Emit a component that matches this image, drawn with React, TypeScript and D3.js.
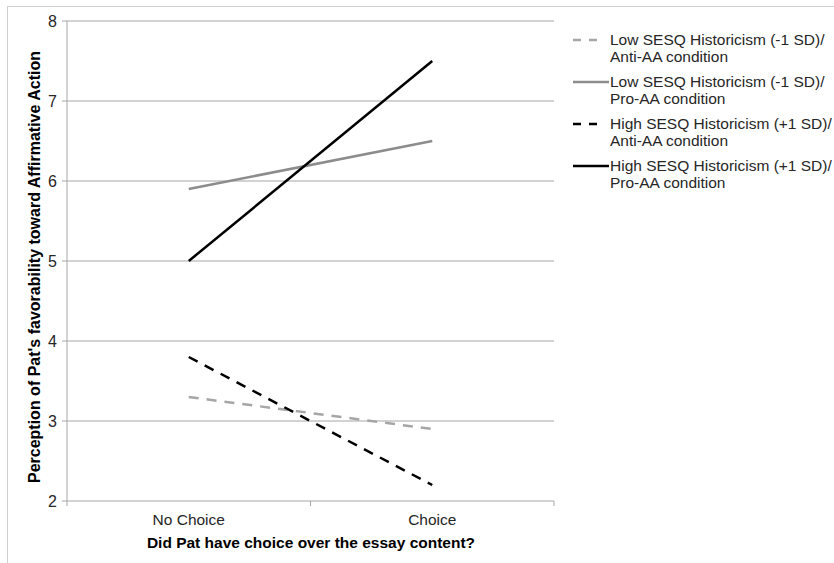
import React from "react";
import * as d3 from "d3";

const categories = ["No Choice", "Choice"];
const yTicks = [2, 3, 4, 5, 6, 7, 8];

const lowAnti = [3.3, 2.9];
const lowPro = [5.9, 6.5];
const highAnti = [3.8, 2.2];
const highPro = [5.0, 7.5];

const legendLines = [
  ["Low SESQ Historicism (-1 SD)/", "Anti-AA condition"],
  ["Low SESQ Historicism (-1 SD)/", "Pro-AA condition"],
  ["High SESQ Historicism (+1 SD)/", "Anti-AA condition"],
  ["High SESQ Historicism (+1 SD)/", "Pro-AA condition"],
];

const W = 834;
const H = 563;
const font = "Arial, 'Liberation Sans', sans-serif";

export default function App() {
  const left = 67;
  const right = 554;
  const top = 21;
  const bottom = 501;

  const x = d3.scalePoint<string>().domain(categories).range([left, right]).padding(0.5);
  const y = d3.scaleLinear().domain([2, 8]).range([bottom, top]);

  const line = d3
    .line<number>()
    .x((_, i) => x(categories[i]) as number)
    .y((d) => y(d));

  // series: values, colour, dashed
  const series = [
    { values: lowAnti, color: "#a6a6a6", dash: "10,8" },
    { values: lowPro, color: "#8c8c8c", dash: null },
    { values: highAnti, color: "#000000", dash: "10,8" },
    { values: highPro, color: "#000000", dash: null },
  ];

  const legendY = [40, 82, 124, 166];

  return (
    <svg
      width={W}
      height={H}
      style={{ position: "absolute", left: 0, top: 0, background: "#fff" }}
      fontFamily={font}
    >
      {/* outer frame */}
      <line x1={7} x2={W} y1={6.5} y2={6.5} stroke="#d0d0d0" />
      <line x1={7.5} x2={7.5} y1={6} y2={H} stroke="#d0d0d0" />

      {/* grid */}
      {yTicks.map((t) => (
        <g key={t}>
          <line x1={left - 5} x2={right} y1={y(t)} y2={y(t)} stroke="#a6a6a6" strokeWidth={1} />
          <text x={57} y={y(t)} dy="0.35em" textAnchor="end" fontSize={16} fill="#262626">
            {t}
          </text>
        </g>
      ))}
      <line x1={left} x2={left} y1={top} y2={bottom} stroke="#a6a6a6" />
      {[left, (left + right) / 2, right].map((tx) => (
        <line key={tx} x1={tx} x2={tx} y1={bottom} y2={bottom + 5} stroke="#a6a6a6" />
      ))}

      {/* category labels */}
      {categories.map((c) => (
        <text key={c} x={x(c)} y={525} textAnchor="middle" fontSize={15.5} fill="#262626">
          {c}
        </text>
      ))}

      {/* axis titles */}
      <text x={311} y={548} textAnchor="middle" fontSize={15.5} fontWeight="bold" fill="#000">
        Did Pat have choice over the essay content?
      </text>
      <text
        transform={`translate(40,267) rotate(-90)`}
        textAnchor="middle"
        fontSize={16}
        fontWeight="bold"
        fill="#000"
      >
        Perception of Pat's favorability toward Affirmative Action
      </text>

      {/* lines */}
      {series.map((s, i) => (
        <path
          key={i}
          d={line(s.values) as string}
          fill="none"
          stroke={s.color}
          strokeWidth={2.5}
          strokeDasharray={s.dash ?? undefined}
        />
      ))}

      {/* legend */}
      {series.map((s, i) => (
        <g key={i}>
          <line
            x1={573}
            x2={s.dash ? 599 : 609}
            y1={legendY[i]}
            y2={legendY[i]}
            stroke={s.color}
            strokeWidth={2.5}
            strokeDasharray={s.dash ? "8,8" : undefined}
          />
          <text x={610} y={legendY[i]} dy="0.35em" fontSize={15.5} fill="#262626">
            {legendLines[i][0]}
          </text>
          <text x={610} y={legendY[i] + 17} dy="0.35em" fontSize={15.5} fill="#262626">
            {legendLines[i][1]}
          </text>
        </g>
      ))}
    </svg>
  );
}
